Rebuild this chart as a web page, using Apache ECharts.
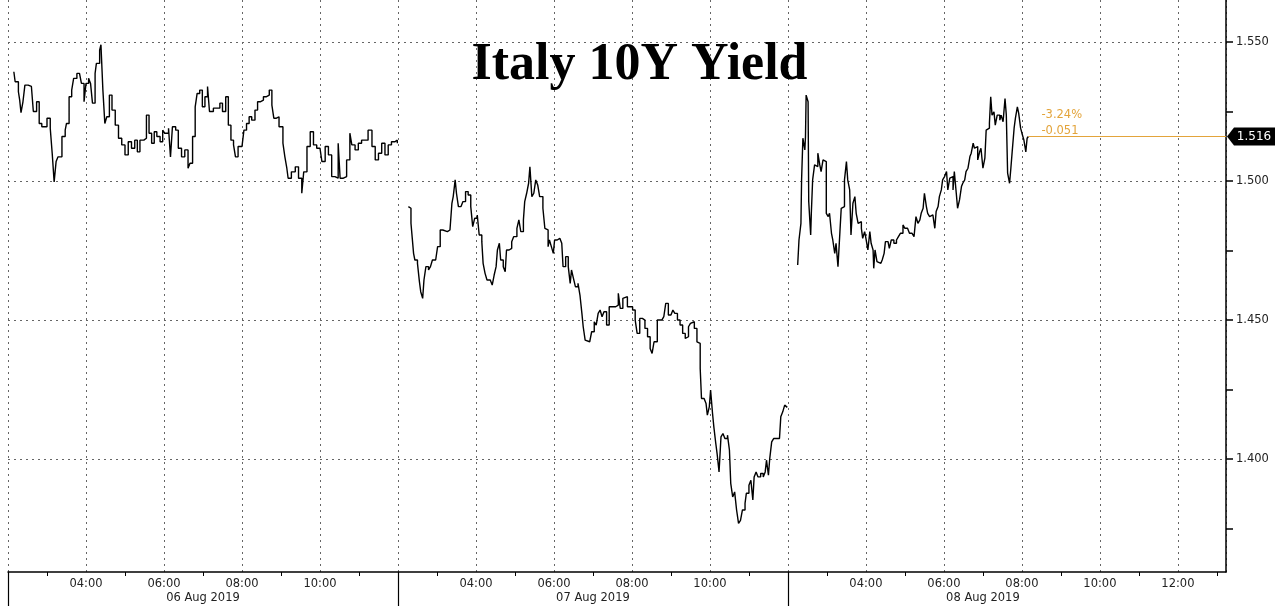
<!DOCTYPE html>
<html>
<head>
<meta charset="utf-8">
<script src="https://cdn.jsdelivr.net/npm/echarts@6/dist/echarts.min.js"></script>
<style>html,body{margin:0;padding:0;background:#fff;}#c{width:1279px;height:609px;}</style>
</head>
<body>
<div id="c"></div>
<script>
// ---- data (time of day, yield) ----
const dayLabels = ['06 Aug 2019', '07 Aug 2019', '08 Aug 2019'];
const day1 = [['02:09',1.5393],['02:11',1.5357],['02:16',1.5321],['02:18',1.5291],['02:20',1.5246],['02:23',1.5285],['02:26',1.5345],['02:31',1.534],['02:36',1.5333],['02:39',1.525],['02:44',1.5285],['02:48',1.5207],['02:52',1.5195],['03:00',1.5226],['03:05',1.519],['03:08',1.510],['03:11',1.4997],['03:14',1.507],['03:17',1.5087],['03:23',1.516],['03:28',1.5183],['03:30',1.5207],['03:34',1.5303],['03:38',1.5327],['03:41',1.5369],['03:46',1.5387],['03:50',1.5393],['03:53',1.5351],['03:57',1.5285],['04:00',1.5351],['04:04',1.537],['04:07',1.5351],['04:10',1.528],['04:14',1.5387],['04:16',1.5423],['04:21',1.5471],['04:23',1.549],['04:26',1.5327],['04:29',1.5207],['04:32',1.5231],['04:36',1.5309],['04:40',1.5255],['04:45',1.5201],['04:50',1.5154],['04:55',1.513],['05:00',1.5094],['05:05',1.5141],['05:10',1.5118],['05:15',1.5147],['05:19',1.5105],['05:23',1.5147],['05:29',1.5154],['05:33',1.5237],['05:37',1.5172],['05:41',1.5136],['05:45',1.5177],['05:49',1.516],['05:54',1.5141],['05:58',1.5183],['06:01',1.5172],['06:07',1.519],['06:10',1.5087],['06:13',1.5195],['06:18',1.5183],['06:22',1.5118],['06:27',1.5087],['06:32',1.5112],['06:37',1.5046],['06:40',1.5064],['06:44',1.516],['06:48',1.5267],['06:51',1.5315],['06:55',1.5327],['06:59',1.5267],['07:03',1.5303],['07:07',1.534],['07:10',1.525],['07:16',1.5262],['07:22',1.5262],['07:26',1.528],['07:30',1.525],['07:35',1.5303],['07:39',1.5201],['07:43',1.5147],['07:47',1.513],['07:50',1.5087],['07:54',1.5124],['08:00',1.513],['08:03',1.5183],['08:07',1.5207],['08:11',1.5231],['08:15',1.5219],['08:20',1.5255],['08:24',1.5285],['08:28',1.5291],['08:33',1.5303],['08:37',1.5309],['08:42',1.5327],['08:46',1.5273],['08:49',1.5226],['08:53',1.5231],['08:57',1.5195],['09:03',1.5136],['09:06',1.5087],['09:09',1.5046],['09:11',1.501],['09:16',1.5033],['09:22',1.5051],['09:27',1.501],['09:32',1.4956],['09:35',1.5033],['09:40',1.5124],['09:45',1.5177],['09:50',1.513],['09:55',1.5118],['10:00',1.5112],['10:03',1.507],['10:08',1.5124],['10:13',1.5094],['10:18',1.5016],['10:23',1.501],['10:28',1.5136],['10:31',1.501],['10:36',1.5016],['10:41',1.5076],['10:46',1.5172],['10:49',1.513],['10:54',1.5112],['10:59',1.5136],['11:04',1.5147],['11:09',1.5147],['11:14',1.5183],['11:20',1.5124],['11:25',1.5076],['11:30',1.51],['11:35',1.5136],['11:40',1.5094],['11:45',1.513],['11:50',1.5141],['11:55',1.5147],['11:59',1.5136]];
const day2 = [['02:16',1.4908],['02:18',1.4902],['02:20',1.4848],['02:23',1.4854],['02:24',1.474],['02:26',1.4716],['02:30',1.4704],['02:33',1.4638],['02:35',1.4602],['02:38',1.4578],['02:40',1.4644],['02:43',1.4692],['02:47',1.468],['02:50',1.4692],['02:53',1.4716],['02:58',1.4716],['03:01',1.4764],['03:05',1.4824],['03:09',1.483],['03:12',1.4818],['03:16',1.4824],['03:20',1.4818],['03:23',1.492],['03:25',1.4944],['03:28',1.5004],['03:30',1.4956],['03:33',1.4908],['03:37',1.4914],['03:40',1.4926],['03:44',1.4962],['03:48',1.495],['03:52',1.4908],['03:55',1.4836],['03:58',1.4866],['04:02',1.4878],['04:05',1.4806],['04:09',1.4782],['04:11',1.4704],['04:14',1.4668],['04:17',1.4644],['04:22',1.4638],['04:25',1.4626],['04:28',1.4662],['04:31',1.4692],['04:33',1.4752],['04:36',1.4776],['04:38',1.4716],['04:42',1.4692],['04:45',1.4674],['04:47',1.4752],['04:51',1.4758],['04:55',1.4782],['04:58',1.48],['05:03',1.483],['05:06',1.486],['05:09',1.4818],['05:13',1.486],['05:15',1.4926],['05:18',1.4956],['05:21',1.4992],['05:23',1.5051],['05:26',1.4944],['05:29',1.4956],['05:32',1.5004],['05:35',1.4986],['05:38',1.4944],['05:43',1.4902],['05:46',1.483],['05:49',1.4824],['05:51',1.4764],['05:53',1.4788],['05:56',1.4764],['05:59',1.474],['06:01',1.4788],['06:05',1.4794],['06:09',1.4788],['06:12',1.4776],['06:14',1.4692],['06:18',1.4728],['06:22',1.4692],['06:25',1.4632],['06:27',1.468],['06:30',1.465],['06:33',1.462],['06:37',1.4632],['06:40',1.459],['06:43',1.4524],['06:45',1.4476],['06:48',1.4428],['06:51',1.4422],['06:55',1.4416],['06:58',1.4458],['07:02',1.4494],['07:05',1.4482],['07:08',1.4524],['07:11',1.4536],['07:14',1.4512],['07:17',1.453],['07:21',1.4482],['07:25',1.4548],['07:29',1.4554],['07:32',1.4548],['07:35',1.4554],['07:39',1.4596],['07:42',1.4542],['07:46',1.4578],['07:49',1.4584],['07:53',1.4548],['07:57',1.4548],['08:01',1.4536],['08:05',1.45],['08:08',1.4452],['08:12',1.4506],['08:16',1.45],['08:20',1.447],['08:24',1.444],['08:28',1.4398],['08:31',1.438],['08:34',1.4422],['08:37',1.4422],['08:39',1.45],['08:42',1.45],['08:46',1.4506],['08:49',1.4512],['08:52',1.456],['08:56',1.4518],['09:00',1.4524],['09:03',1.4536],['09:06',1.4524],['09:10',1.45],['09:14',1.4482],['09:18',1.4452],['09:22',1.4434],['09:24',1.444],['09:27',1.4476],['09:30',1.4488],['09:33',1.4494],['09:36',1.447],['09:40',1.4422],['09:43',1.4416],['09:45',1.4326],['09:47',1.4218],['09:51',1.4212],['09:54',1.42],['09:56',1.4158],['09:59',1.4188],['10:01',1.4248],['10:04',1.4164],['10:06',1.4116],['10:09',1.4056],['10:11',1.402],['10:14',1.3954],['10:17',1.408],['10:20',1.4092],['10:23',1.4074],['10:27',1.4086],['10:30',1.4032],['10:32',1.3913],['10:35',1.3864],['10:38',1.3882],['10:41',1.3817],['10:44',1.3769],['10:47',1.378],['10:50',1.3817],['10:54',1.3841],['10:56',1.3877],['11:00',1.3906],['11:03',1.3924],['11:06',1.3853],['11:08',1.3936],['11:11',1.3954],['11:14',1.3936],['11:18',1.3948],['11:22',1.3936],['11:25',1.3954],['11:27',1.3996],['11:30',1.3942],['11:32',1.4002],['11:35',1.4062],['11:38',1.4074],['11:43',1.4074],['11:47',1.408],['11:49',1.4152],['11:52',1.417],['11:55',1.4194],['11:58',1.4188],['11:59',1.4186]];
const day3 = [['02:15',1.4698],['02:17',1.4788],['02:20',1.4848],['02:21',1.5004],['02:23',1.5154],['02:26',1.5112],['02:27',1.5159],['02:28',1.5309],['02:31',1.5285],['02:32',1.4926],['02:35',1.4806],['02:36',1.4884],['02:38',1.5004],['02:41',1.5058],['02:44',1.5052],['02:46',1.51],['02:49',1.5058],['02:51',1.5034],['02:54',1.5076],['02:56',1.507],['02:59',1.4884],['03:02',1.4872],['03:04',1.4884],['03:07',1.4812],['03:09',1.4788],['03:12',1.474],['03:14',1.4776],['03:17',1.4692],['03:20',1.4818],['03:22',1.4902],['03:25',1.4908],['03:27',1.5004],['03:30',1.507],['03:32',1.5004],['03:35',1.4968],['03:37',1.4806],['03:40',1.492],['03:43',1.4944],['03:45',1.4884],['03:48',1.4848],['03:50',1.4854],['03:53',1.483],['03:55',1.4794],['03:58',1.4818],['04:00',1.4794],['04:03',1.4752],['04:06',1.4818],['04:08',1.4776],['04:11',1.4752],['04:12',1.4686],['04:14',1.4752],['04:17',1.471],['04:20',1.4704],['04:23',1.4704],['04:25',1.4716],['04:28',1.474],['04:30',1.4782],['04:34',1.4782],['04:36',1.4758],['04:39',1.4788],['04:43',1.4776],['04:47',1.4788],['04:50',1.48],['04:53',1.4812],['04:57',1.4842],['05:00',1.483],['05:04',1.4824],['05:07',1.4812],['05:11',1.4806],['05:14',1.48],['05:17',1.4872],['05:20',1.4848],['05:23',1.486],['05:25',1.4884],['05:28',1.4902],['05:30',1.4956],['05:33',1.4908],['05:35',1.4884],['05:38',1.4872],['05:40',1.4878],['05:43',1.4872],['05:46',1.483],['05:48',1.489],['05:51',1.4908],['05:53',1.4944],['05:56',1.4968],['05:58',1.5004],['06:01',1.5016],['06:04',1.5034],['06:06',1.4968],['06:09',1.501],['06:11',1.5016],['06:14',1.4968],['06:16',1.5034],['06:19',1.4956],['06:21',1.4902],['06:24',1.4932],['06:27',1.498],['06:29',1.4992],['06:32',1.5004],['06:34',1.5034],['06:37',1.5046],['06:40',1.5088],['06:42',1.51],['06:45',1.5136],['06:47',1.5118],['06:50',1.5124],['06:52',1.5076],['06:55',1.5105],['06:57',1.5118],['07:00',1.5046],['07:03',1.5082],['07:05',1.5183],['07:08',1.519],['07:10',1.5208],['07:12',1.5303],['07:14',1.5237],['07:17',1.5249],['07:19',1.5201],['07:22',1.5237],['07:26',1.5219],['07:28',1.5237],['07:31',1.5213],['07:34',1.5297],['07:36',1.5237],['07:38',1.5028],['07:41',1.4992],['07:43',1.5046],['07:45',1.5105],['07:48',1.519],['07:50',1.5226],['07:53',1.5267],['07:55',1.5244],['07:58',1.519],['08:00',1.5172],['08:03',1.5148],['08:06',1.5105],['08:08',1.5154],['08:10',1.516]];
const yTickLabels = [1.400, 1.450, 1.500, 1.550];
const yAllTicks = [1.375, 1.400, 1.425, 1.450, 1.475, 1.500, 1.525, 1.550];
const changePct = '-3.24%';
const changeAbs = '-0.051';

// ---- axis setup: each session shown from 02:00, gaps between sessions removed ----
const SESSION = 600;          // minutes shown per day (02:00-12:00)
const XMAX = 1874;            // last day runs to ~13:14
const YMIN = 1.3594, YMAX = 1.5651;
const ORANGE = '#e3a43b';

function toX(hhmm, dayIdx) {
  const [h, m] = hhmm.split(':').map(Number);
  return dayIdx * SESSION + (h - 2) * 60 + m;
}
const days = [day1, day2, day3];
const seriesData = days.map((d, i) => d.map(p => [toX(p[0], i), p[1]]));
const last = seriesData[2][seriesData[2].length - 1];

function fmtTime(v) {
  const d = Math.min(2, Math.floor(v / SESSION));
  const m = v - d * SESSION;
  if (m === 0) return '';
  const h = 2 + Math.floor(m / 60), mm = m % 60;
  return String(h).padStart(2, '0') + ':' + String(mm).padStart(2, '0');
}

const chart = echarts.init(document.getElementById('c'));
const FONT = 'DejaVu Sans';
const series = seriesData.map((d, i) => ({
  type: 'line', data: d, step: 'end', showSymbol: false, xAxisIndex: 0, yAxisIndex: 0,
  lineStyle: { color: '#000', width: 1.4 }, silent: true, z: 3
}));
series[2].markLine = {
  silent: true, symbol: ['none', 'none'],
  lineStyle: { color: ORANGE, type: 'solid', width: 1.2 },
  label: {
    show: true, position: 'insideStartTop', color: ORANGE, fontFamily: FONT, fontSize: 11.5,
    lineHeight: 16, distance: [13, -2], formatter: changePct + '\n' + changeAbs
  },
  data: [[{ coord: last }, { coord: [XMAX, last[1]] }]]
};
series[2].markPoint = {
  silent: true,
  symbol: 'path://M0,9 L7,0 L48,0 L48,18 L7,18 Z',
  symbolSize: [48, 18], symbolOffset: [25, 0], symbolKeepAspect: false,
  itemStyle: { color: '#000' },
  label: { show: true, position: 'inside', offset: [3, 0], color: '#fff', fontFamily: FONT, fontSize: 12,
    formatter: last[1].toFixed(3) },
  data: [{ coord: [XMAX, last[1]] }]
};

chart.setOption({
  animation: false,
  backgroundColor: '#fff',
  title: {
    text: 'Italy 10Y Yield', left: 'center', top: 40, padding: 0,
    textStyle: { fontFamily: 'Liberation Serif', fontWeight: 'bold', fontSize: 52, color: '#000' }
  },
  grid: { left: 8, right: 53, top: 0, bottom: 37, containLabel: false },
  xAxis: [{
    type: 'value', min: 0, max: XMAX, interval: 120, position: 'bottom',
    axisLine: { show: true, onZero: false, lineStyle: { color: '#000', width: 1.5 } },
    axisTick: { show: false },
    minorTick: { show: true, splitNumber: 2, length: 4, lineStyle: { color: '#000', width: 1 } },
    axisLabel: { formatter: fmtTime, color: '#222', fontFamily: FONT, fontSize: 11.5, margin: 6, showMinLabel: true, showMaxLabel: false },
    splitLine: { show: true, showMinLine: true, lineStyle: { color: '#666', type: [2, 4], width: 1 } }
  }, {
    type: 'value', min: 0, max: XMAX, position: 'bottom',
    axisLine: { show: false },
    axisTick: { show: true, customValues: [0, SESSION, 2 * SESSION], length: 34, lineStyle: { color: '#000', width: 1.2 } },
    axisLabel: { customValues: [300, 900, 1500], formatter: v => dayLabels[Math.round((v - 300) / SESSION)],
      color: '#222', fontFamily: FONT, fontSize: 11.5, margin: 20 },
    splitLine: { show: false }
  }],
  yAxis: [{
    type: 'value', position: 'right', min: YMIN, max: YMAX,
    axisLine: { show: true, onZero: false, lineStyle: { color: '#000', width: 1.5 } },
    axisTick: { show: true, customValues: yAllTicks, length: 7, lineStyle: { color: '#000', width: 1.5 } },
    axisLabel: { customValues: yTickLabels, formatter: v => v.toFixed(3), color: '#222', fontFamily: FONT, fontSize: 11.5, margin: 10 },
    splitLine: { show: false }
  }, {
    type: 'value', position: 'left', min: YMIN, max: YMAX,
    axisLine: { show: false },
    axisTick: { show: false, customValues: yTickLabels },
    axisLabel: { show: false },
    splitLine: { show: true, lineStyle: { color: '#666', type: [2, 4], width: 1 } }
  }],
  series: series
});
</script>
</body>
</html>
